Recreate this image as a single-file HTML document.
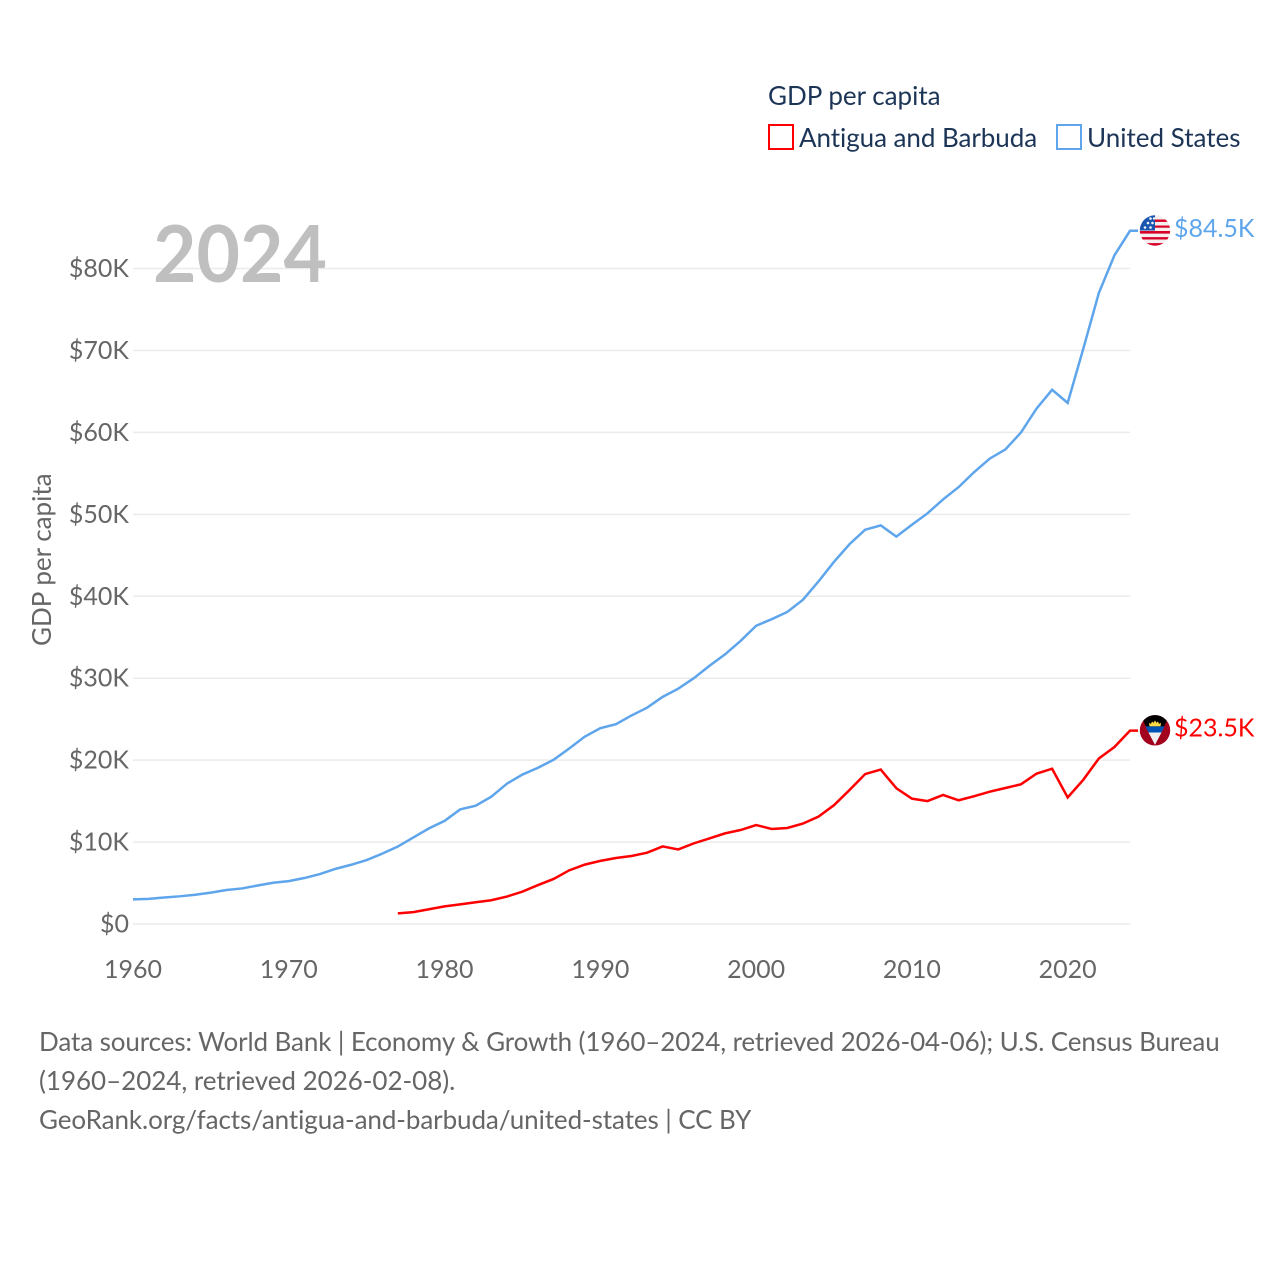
<!DOCTYPE html>
<html lang="en">
<head>
<meta charset="utf-8">
<title>GDP per capita: Antigua and Barbuda vs United States</title>
<style>
html,body{margin:0;padding:0;background:#fff;width:1280px;height:1280px;overflow:hidden}
svg{display:block}
text{font-family:"Lato","Carlito","Liberation Sans",sans-serif}
</style>
</head>
<body>
<svg id="chart" xmlns="http://www.w3.org/2000/svg" width="1280" height="1280" viewBox="0 0 1280 1280">
  <defs>
    <clipPath id="flag-clip"><circle cx="0" cy="0" r="15.2"/></clipPath>
  </defs>
  <rect width="1280" height="1280" fill="#fff"/>

  <g id="grid"></g>
  <g id="y-ticks"></g>
  <g id="x-ticks"></g>

  <text x="153" y="282" font-size="79" font-weight="700" fill="#bfbfbf" textLength="174" lengthAdjust="spacingAndGlyphs">2024</text>
  <text transform="translate(51,646) rotate(-90)" font-size="26" fill="#666">GDP per capita</text>

  <g id="series"></g>

  <g id="us-flag">
    <g clip-path="url(#flag-clip)">
      <rect x="-16" y="-16" width="32" height="32" fill="#f4eeee"/>
      <rect x="-16" y="-11" width="32" height="2.4" fill="#d80027"/>
      <rect x="-16" y="-5" width="32" height="2.2" fill="#d80027"/>
      <rect x="-16" y="0.5" width="32" height="2.6" fill="#d80027"/>
      <rect x="-16" y="6.6" width="32" height="2.4" fill="#d80027"/>
      <rect x="-16" y="12.6" width="32" height="3.4" fill="#d80027"/>
      <rect x="-16" y="-16" width="16" height="16" fill="#1a56b0"/>
      <g fill="#f4f4f4">
        <circle cx="-10" cy="-3" r="1.3"/><circle cx="-4.5" cy="-3" r="1.3"/>
        <circle cx="-7" cy="-7.5" r="1.3"/><circle cx="-2.5" cy="-7.5" r="1.3"/>
        <circle cx="-4.5" cy="-12" r="1.3"/><circle cx="-1" cy="-12" r="1.2"/>
      </g>
    </g>
  </g>
  <g id="ag-flag">
    <g clip-path="url(#flag-clip)">
      <rect x="-16" y="-16" width="32" height="32" fill="#a2001d"/>
      <polygon points="-15,-16 15,-16 0,14.5" fill="#000"/>
      <polygon points="-5.5,-4 -6,-7.5 -4,-6.5 -3,-9 -1.5,-7.5 0,-10 1.5,-7.5 3,-9 4,-6.5 6,-7.5 5.5,-4" fill="#ffda44"/>
      <polygon points="-9.5,-4 9.5,-4 6.5,2.2 -6.5,2.2" fill="#0052b4"/>
      <polygon points="-6.5,2.2 6.5,2.2 0,14.5" fill="#f0f0f0"/>
    </g>
  </g>
  <text id="us-label" x="1174" font-size="25" fill="#5ea5ec"></text>
  <text id="ag-label" x="1174" font-size="25" fill="#ff0000"></text>

  <g>
    <text x="768" y="105" font-size="26" fill="#1c3557">GDP per capita</text>
    <g>
      <rect x="769" y="125" width="24" height="24" fill="#fff" stroke="#ff0000" stroke-width="2"/>
      <text x="799" y="147" font-size="26" letter-spacing="-0.06" fill="#1c3557">Antigua and Barbuda</text>
    </g>
    <g>
      <rect x="1057" y="125" width="24" height="24" fill="#fff" stroke="#5ea5ec" stroke-width="2"/>
      <text x="1087" y="147" font-size="26" fill="#1c3557">United States</text>
    </g>
  </g>

  <g font-size="26" fill="#666">
    <text x="39" y="1051" letter-spacing="-0.1">Data sources: World Bank | Economy &amp; Growth (1960–2024, retrieved 2026-04-06); U.S. Census Bureau</text>
    <text x="39" y="1090" letter-spacing="-0.03">(1960–2024, retrieved 2026-02-08).</text>
    <text x="39" y="1129" letter-spacing="-0.085">GeoRank.org/facts/antigua-and-barbuda/united-states | CC BY</text>
  </g>
</svg>
<script>
const usFirstYear = 1960;
const agFirstYear = 1977;
const usValues = [3.01,3.07,3.24,3.38,3.57,3.83,4.15,4.34,4.70,5.03,5.23,5.61,6.09,6.73,7.23,7.80,8.59,9.45,10.57,11.67,12.58,13.98,14.43,15.54,17.12,18.24,19.07,20.04,21.42,22.86,23.9,24.38,25.45,26.4,27.72,28.72,30.0,31.5,32.9,34.55,36.4,37.2,38.08,39.56,41.8,44.2,46.36,48.12,48.65,47.28,48.72,50.12,51.82,53.32,55.16,56.8,57.92,59.98,62.9,65.2,63.6,70.2,77.0,81.6,84.6];
const agValues = [1.3,1.45,1.8,2.15,2.4,2.65,2.9,3.35,3.95,4.75,5.5,6.55,7.25,7.7,8.05,8.3,8.7,9.47,9.1,9.84,10.45,11.06,11.47,12.08,11.6,11.72,12.25,13.1,14.5,16.36,18.3,18.85,16.57,15.3,15.0,15.75,15.1,15.6,16.15,16.6,17.05,18.35,18.95,15.45,17.6,20.2,21.6,23.6];
const yTickValues = [0,10,20,30,40,50,60,70,80];
const yTickLabels = ['$0','$10K','$20K','$30K','$40K','$50K','$60K','$70K','$80K'];
const xTickYears = [1960,1970,1980,1990,2000,2010,2020];
const endYear = 2024;
const usEndLabel = '$84.5K';
const agEndLabel = '$23.5K';

const NS = 'http://www.w3.org/2000/svg';
const xPos = year => 133 + (year - 1960) * (997 / 64);
const yPos = v => 924 - v * (655.5 / 80);

const gridGroup = document.getElementById('grid');
const yGroup = document.getElementById('y-ticks');
const xGroup = document.getElementById('x-ticks');
const seriesGroup = document.getElementById('series');

yTickValues.forEach((v, i) => {
  const line = document.createElementNS(NS, 'line');
  
  
  line.setAttribute('x1', xPos(1960));
  line.setAttribute('x2', xPos(endYear));
  line.setAttribute('y1', yPos(v));
  line.setAttribute('y2', yPos(v));
  line.setAttribute('stroke', '#ebebeb');
  line.setAttribute('stroke-width', '1.5');
  gridGroup.appendChild(line);

  const t = document.createElementNS(NS, 'text');
  
  
  t.setAttribute('x', 129);
  t.setAttribute('y', yPos(v) + 8.5);
  t.setAttribute('text-anchor', 'end');
  t.setAttribute('font-size', '25');
  t.setAttribute('fill', '#666');
  t.textContent = yTickLabels[i];
  yGroup.appendChild(t);
});

xTickYears.forEach(year => {
  const t = document.createElementNS(NS, 'text');
  
  
  t.setAttribute('x', xPos(year));
  t.setAttribute('y', 978);
  t.setAttribute('text-anchor', 'middle');
  t.setAttribute('font-size', '25');
  t.setAttribute('fill', '#666');
  t.textContent = String(year);
  xGroup.appendChild(t);
});

function pathFor(values, firstYear) {
  const pts = values.map((v, i) => xPos(firstYear + i).toFixed(2) + ',' + yPos(v).toFixed(2));
  const last = values[values.length - 1];
  pts.push((xPos(endYear) + 8).toFixed(2) + ',' + yPos(last).toFixed(2));
  return pts.join(' ');
}

const usLine = document.createElementNS(NS, 'polyline');


usLine.setAttribute('points', pathFor(usValues, usFirstYear));
usLine.setAttribute('fill', 'none');
usLine.setAttribute('stroke', '#5ea5ec');
usLine.setAttribute('stroke-width', '2.5');
seriesGroup.appendChild(usLine);

const agLine = document.createElementNS(NS, 'polyline');


agLine.setAttribute('points', pathFor(agValues, agFirstYear));
agLine.setAttribute('fill', 'none');
agLine.setAttribute('stroke', '#ff0000');
agLine.setAttribute('stroke-width', '2.5');
seriesGroup.appendChild(agLine);

const usLast = yPos(usValues[usValues.length - 1]);
const agLast = yPos(agValues[agValues.length - 1]);
document.getElementById('us-flag').setAttribute('transform', 'translate(1155,' + (usLast - 0.3) + ')');
document.getElementById('ag-flag').setAttribute('transform', 'translate(1155,' + (agLast - 0.3) + ')');
const usLabel = document.getElementById('us-label');
usLabel.setAttribute('y', usLast + 6);
usLabel.textContent = usEndLabel;
const agLabel = document.getElementById('ag-label');
agLabel.setAttribute('y', agLast + 6);
agLabel.textContent = agEndLabel;
</script>
</body>
</html>
